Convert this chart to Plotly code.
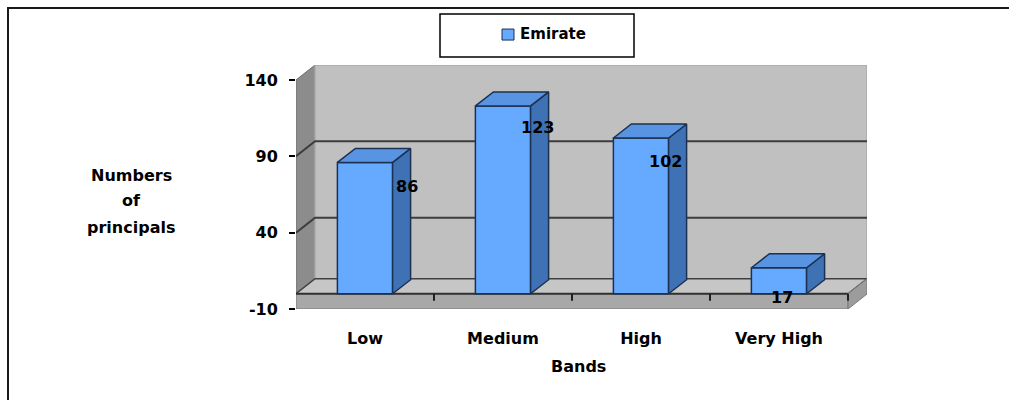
import plotly.graph_objects as go

# ---- data -------------------------------------------------------------
bands = ["Low", "Medium", "High", "Very High"]
emirate = [86, 123, 102, 17]
y_ticks = [-10, 40, 90, 140]
y_tick_text = ["-10", "40", "90", "140"]
series_name = "Emirate"

# ---- geometry (pixels) ------------------------------------------------
W, H = 1009, 400
PX_PER_CAT = 138.0          # horizontal size of one category
PX_PER_UNIT = 1.527         # vertical pixels per value unit
FRONT_LEFT = 296            # left edge of the front plane
FRONT_BOTTOM = 309          # bottom of the front plane (axis minimum)
WALL_DX_PX, WALL_DY_PX = 19, 15   # depth of the chart box
BAR_DX_PX, BAR_DY_PX = 18, 14     # depth of each column
BAR_WIDTH = 0.4

FONT = "DejaVu Sans"
TEXT = "#000000"
FRONT_COL = "#66aaff"
SIDE_COL = "#3f72b4"
TOP_COL = "#5894e2"
EDGE_COL = "#1c3152"

n = len(bands)
y_min, y_max = y_ticks[0], y_ticks[-1]
wdx = WALL_DX_PX / PX_PER_CAT
wdy = WALL_DY_PX / PX_PER_UNIT
bdx = BAR_DX_PX / PX_PER_CAT
bdy = BAR_DY_PX / PX_PER_UNIT
x_lo, x_hi = -0.5, n - 0.5
x_range = [x_lo, x_hi + wdx]
y_range = [y_min, y_max + wdy]
plot_w = (x_range[1] - x_range[0]) * PX_PER_CAT
plot_h = (y_range[1] - y_range[0]) * PX_PER_UNIT
m_l = FRONT_LEFT
m_r = W - FRONT_LEFT - plot_w
m_b = H - FRONT_BOTTOM
m_t = FRONT_BOTTOM - plot_h


def px_x(px):
    return (px - m_l) / plot_w


def px_y(py):
    return 1 - (py - m_t) / plot_h


def poly(points):
    return "M " + " L ".join(f"{x},{y}" for x, y in points) + " Z"


def line_path(points):
    return "M " + " L ".join(f"{x},{y}" for x, y in points)


shapes = []
# left side wall
shapes.append(dict(type="path", xref="x", yref="y", layer="below",
                   path=poly([(x_lo, y_min), (x_lo, y_max), (x_lo + wdx, y_max + wdy), (x_lo + wdx, y_min + wdy)]),
                   fillcolor="#8c8c8c", line=dict(color="#707070", width=1)))
# back wall
shapes.append(dict(type="rect", xref="x", yref="y", layer="below",
                   x0=x_lo + wdx, x1=x_hi + wdx, y0=y_min + wdy, y1=y_max + wdy,
                   fillcolor="#c0c0c0", line=dict(color="#a9a9a9", width=1.5)))
# gridlines running along the side wall and the back wall
for v in y_ticks[1:-1]:
    shapes.append(dict(type="path", xref="x", yref="y", layer="below",
                       path=line_path([(x_lo, v), (x_lo + wdx, v + wdy), (x_hi + wdx, v + wdy)]),
                       line=dict(color="#3c3c3c", width=2)))
# floor top surface (at zero)
shapes.append(dict(type="path", xref="x", yref="y", layer="below",
                   path=poly([(x_lo, 0), (x_hi, 0), (x_hi + wdx, wdy), (x_lo + wdx, wdy)]),
                   fillcolor="#c6c6c6", line=dict(color="#404040", width=1.5)))
# floor front face
shapes.append(dict(type="rect", xref="x", yref="y", layer="below",
                   x0=x_lo, x1=x_hi, y0=y_min, y1=0,
                   fillcolor="#a8a8a8", line=dict(color="#7a7a7a", width=1)))
shapes.append(dict(type="line", xref="x", yref="y", layer="below",
                   x0=x_lo, x1=x_hi, y0=0, y1=0, line=dict(color="#303030", width=2)))
# floor right end
shapes.append(dict(type="path", xref="x", yref="y", layer="below",
                   path=poly([(x_hi, y_min), (x_hi, 0), (x_hi + wdx, wdy), (x_hi + wdx, y_min + wdy)]),
                   fillcolor="#9c9c9c", line=dict(color="#7a7a7a", width=1)))
# category separators on the floor edge
for k in range(n):
    shapes.append(dict(type="line", xref="x", yref="y", layer="below",
                       x0=k + 0.5, x1=k + 0.5, y0=0, y1=-7 / PX_PER_UNIT,
                       line=dict(color="#202020", width=2)))

# outer frame (top and left edges visible)
shapes.append(dict(type="rect", xref="paper", yref="paper",
                   x0=px_x(8), x1=px_x(W + 10), y0=px_y(8), y1=px_y(H + 10),
                   line=dict(color="#1a1a1a", width=2)))
# legend box and swatch
shapes.append(dict(type="rect", xref="paper", yref="paper",
                   x0=px_x(440), x1=px_x(634), y0=px_y(14), y1=px_y(57),
                   line=dict(color="#000000", width=1.5), fillcolor="white"))
shapes.append(dict(type="rect", xref="paper", yref="paper",
                   x0=px_x(502), x1=px_x(514), y0=px_y(29), y1=px_y(40),
                   line=dict(color=EDGE_COL, width=1), fillcolor=FRONT_COL))

fig = go.Figure()

# column front faces
fig.add_trace(go.Bar(x=list(range(n)), y=emirate, width=BAR_WIDTH, name=series_name,
                     marker=dict(color=FRONT_COL, line=dict(color=EDGE_COL, width=1.5)),
                     showlegend=False, hoverinfo="skip"))

# column side and top faces
side_x, side_y, top_x, top_y = [], [], [], []
for i, v in enumerate(emirate):
    xl, xr = i - BAR_WIDTH / 2, i + BAR_WIDTH / 2
    side_x += [xr, xr, xr + bdx, xr + bdx, xr, None]
    side_y += [0, v, v + bdy, bdy, 0, None]
    top_x += [xl, xr, xr + bdx, xl + bdx, xl, None]
    top_y += [v, v, v + bdy, v + bdy, v, None]
fig.add_trace(go.Scatter(x=side_x, y=side_y, mode="lines", fill="toself", fillcolor=SIDE_COL,
                         line=dict(color=EDGE_COL, width=1.5), showlegend=False, hoverinfo="skip"))
fig.add_trace(go.Scatter(x=top_x, y=top_y, mode="lines", fill="toself", fillcolor=TOP_COL,
                         line=dict(color=EDGE_COL, width=1.5), showlegend=False, hoverinfo="skip"))

annotations = []
# value labels
label_dx = [42, 34, 24, 3]
label_dy = [-24, -22, -23, -30]
for i, v in enumerate(emirate):
    annotations.append(dict(x=i, y=v, xref="x", yref="y", text=str(v), showarrow=False,
                            xshift=label_dx[i], yshift=label_dy[i],
                            font=dict(family=FONT, size=16, color=TEXT, weight="bold")))
# axis titles
for txt, py in [("Numbers", 175), ("of", 200), ("principals", 227)]:
    annotations.append(dict(x=px_x(131), y=px_y(py), xref="paper", yref="paper", text=txt,
                            showarrow=False, xanchor="center", yanchor="middle",
                            font=dict(family=FONT, size=16, color=TEXT, weight="bold")))
annotations.append(dict(x=px_x(578), y=px_y(367), xref="paper", yref="paper", text="Bands",
                        showarrow=False, xanchor="center", yanchor="middle",
                        font=dict(family=FONT, size=16, color=TEXT, weight="bold")))
# legend text
annotations.append(dict(x=px_x(518), y=px_y(34), xref="paper", yref="paper", text=series_name,
                        showarrow=False, xanchor="left", yanchor="middle",
                        font=dict(family=FONT, size=15, color=TEXT, weight="bold")))

fig.update_layout(
    width=W, height=H,
    margin=dict(l=m_l, r=m_r, t=m_t, b=m_b, pad=0),
    paper_bgcolor="white", plot_bgcolor="rgba(0,0,0,0)",
    showlegend=False,
    shapes=shapes, annotations=annotations,
    xaxis=dict(range=x_range, tickvals=list(range(n)), ticktext=bands, showgrid=False,
               zeroline=False, showline=False, ticks="", ticklabelstandoff=18,
               tickfont=dict(family=FONT, size=16, color=TEXT, weight="bold"), fixedrange=True),
    yaxis=dict(range=y_range, tickvals=y_ticks, ticktext=y_tick_text, showgrid=False,
               zeroline=False, showline=False,
               ticks="outside", ticklen=6, tickwidth=2, tickcolor="#000000", ticklabelstandoff=8,
               tickfont=dict(family=FONT, size=16, color=TEXT, weight="bold"), fixedrange=True),
)

fig.write_html("out.html")
